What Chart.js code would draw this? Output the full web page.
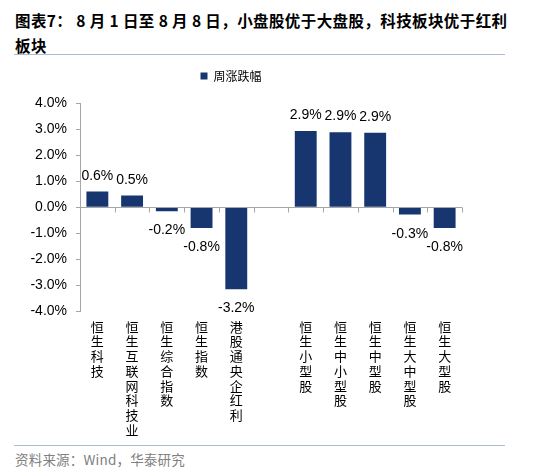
<!DOCTYPE html>
<html>
<head>
<meta charset="utf-8">
<script src="https://cdn.jsdelivr.net/npm/chart.js@4"></script>
<style>
  body { margin: 0; width: 550px; height: 474px; background: #fff; position: relative; overflow: hidden; }
  #title { position: absolute; left: 15px; top: 8px; width: 500px; font: bold 15.5px "Noto Sans CJK SC", sans-serif; line-height: 25px; color: #000; letter-spacing: 0.4px; white-space: nowrap; }
  .rule { position: absolute; left: 14px; width: 491px; height: 1px; background: #a9bcd6; }
  #source { position: absolute; left: 15px; top: 449px; font: 13.5px "Noto Sans CJK SC", sans-serif; color: #808080; letter-spacing: 0.2px; }
  #wrap { position: absolute; left: 0; top: 58px; width: 550px; height: 381px; }
</style>
</head>
<body>
<div id="title">图表7： 8 月 1 日至 8 月 8 日，小盘股优于大盘股，科技板块优于红利<br>板块</div>
<div class="rule" style="top:54px"></div>
<div id="wrap"><canvas id="myBarChart"></canvas></div>
<div class="rule" style="top:445px"></div>
<div id="source">资料来源：Wind，华泰研究</div>
<script>
const categories = ['恒生科技', '恒生互联网科技业', '恒生综合指数', '恒生指数', '港股通央企红利', '',
  '恒生小型股', '恒生中小型股', '恒生中型股', '恒生大中型股', '恒生大型股'];
const weeklyChange = [0.6, 0.45, -0.15, -0.8, -3.15, null, 2.93, 2.88, 2.86, -0.28, -0.8];
const valueLabels = ['0.6%', '0.5%', '-0.2%', '-0.8%', '-3.2%', '', '2.9%', '2.9%', '2.9%', '-0.3%', '-0.8%'];
const yTicks = [-4, -3, -2, -1, 0, 1, 2, 3, 4];

const axisGray = '#a6a6a6';
const barBlue = '#17356f';

// extra room between the legend and the plot
const legendGap = {
  id: 'legendGap',
  afterInit(chart) {
    const lg = chart.legend;
    if (!lg) return;
    const fit = lg.fit.bind(lg);
    lg.fit = function () {
      fit();
      this.height += 11;
    };
  }
};

// value labels above / below each bar
const barLabels = {
  id: 'barLabels',
  afterDatasetsDraw(chart) {
    const ctx = chart.ctx;
    const meta = chart.getDatasetMeta(0);
    ctx.save();
    ctx.font = '14px "Liberation Sans", Arial, sans-serif';
    ctx.fillStyle = '#000';
    ctx.textAlign = 'center';
    ctx.textBaseline = 'alphabetic';
    meta.data.forEach((bar, i) => {
      const v = weeklyChange[i];
      if (v === null) return;
      const y = v >= 0 ? bar.y - 12 : bar.y + 23;
      ctx.fillText(valueLabels[i], bar.x, y);
    });
    ctx.restore();
  }
};

// category tick marks on the zero line
const zeroTicks = {
  id: 'zeroTicks',
  afterDatasetsDraw(chart) {
    const x = chart.scales.x, y = chart.scales.y;
    const ctx = chart.ctx;
    const y0 = Math.round(y.getPixelForValue(0)) + 0.5;
    const w = (x.right - x.left) / categories.length;
    ctx.save();
    ctx.strokeStyle = axisGray;
    ctx.lineWidth = 1;
    ctx.beginPath();
    ctx.moveTo(x.left, y0);
    ctx.lineTo(x.right, y0);
    for (let i = 0; i <= categories.length; i++) {
      const px = Math.round(x.left + i * w) + 0.5;
      ctx.moveTo(px, y0);
      ctx.lineTo(px, y0 + 5);
    }
    ctx.stroke();
    ctx.restore();
  }
};

const data = {
  labels: categories.map(c => c.split('')),
  datasets: [
    {
      label: '周涨跌幅',
      data: weeklyChange,
      backgroundColor: barBlue,
      borderColor: barBlue,
      borderWidth: 0,
      barPercentage: 0.63,
      categoryPercentage: 1
    }
  ]
};

const config = {
  type: 'bar',
  data: data,
  options: {
    responsive: true,
    maintainAspectRatio: false,
    animation: false,
    layout: {
      padding: { top: 0, right: 88, bottom: 2, left: 0 }
    },
    scales: {
      x: {
        grid: { display: false },
        border: { display: false },
        ticks: {
          color: '#000',
          padding: 0,
          maxRotation: 0,
          autoSkip: false,
          font: { family: '"Noto Sans CJK SC", sans-serif', size: 13, lineHeight: 1.13 }
        }
      },
      y: {
        min: -4,
        max: 4,
        afterFit: (scale) => { scale.width = 80; },
        afterBuildTicks: (scale) => { scale.ticks = yTicks.map(v => ({ value: v })); },
        border: { display: true, color: axisGray },
        grid: {
          color: 'transparent',
          tickColor: axisGray,
          tickLength: 4
        },
        ticks: {
          color: '#000',
          padding: 9,
          font: { family: '"Liberation Sans", Arial, sans-serif', size: 14 },
          callback: (value) => value.toFixed(1) + '%'
        }
      }
    },
    plugins: {
      legend: {
        display: true,
        position: 'top',
        labels: {
          boxWidth: 7,
          boxHeight: 7,
          padding: 12,
          color: '#000',
          font: { family: '"Noto Sans CJK SC", sans-serif', size: 12 }
        }
      },
      tooltip: { enabled: false }
    }
  },
  plugins: [legendGap, barLabels, zeroTicks]
};

const myBarChart = new Chart(document.getElementById('myBarChart'), config);
</script>
</body>
</html>
